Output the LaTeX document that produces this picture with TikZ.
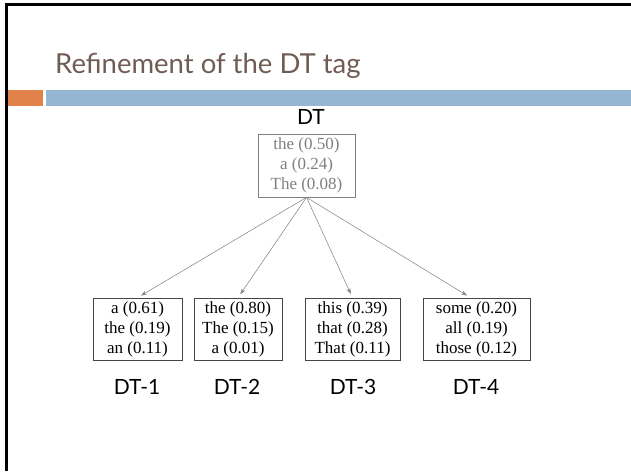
\documentclass[tikz,border=0pt]{standalone}
\usepackage{fontspec}
\setmainfont{Liberation Serif}
\newfontfamily\labfont{Lato}
\usetikzlibrary{arrows.meta}
\definecolor{titlecol}{RGB}{112,92,84}
\definecolor{barorange}{RGB}{224,130,74}
\definecolor{barblue}{RGB}{148,182,210}
\definecolor{graytext}{RGB}{128,128,128}
\definecolor{boxborder}{RGB}{70,70,70}
\begin{document}
\begin{tikzpicture}[x=1pt,y=-1pt,
  wordbox/.style={draw=boxborder, line width=0.7pt, align=center, inner sep=0pt,
    font=\fontsize{17}{20}\selectfont, minimum height=62pt},
  topbox/.style={wordbox, draw=graytext, text=graytext},
  tag/.style={font=\labfont\fontsize{21}{23}\selectfont, inner sep=0pt},
  conn/.style={draw=graytext, line width=0.5pt, -{Stealth[length=6pt,width=4pt]}, shorten >=4pt}]
\useasboundingbox (0,0) rectangle (631,471);
\fill[white] (0,0) rectangle (631,471);
% frame
\draw[line width=2.5pt] (6.5,4.5) -- (631,4.5);
\draw[line width=2.5pt] (6.5,3.3) -- (6.5,471);
% bars
\fill[barorange] (8,90) rectangle (43,106);
\fill[barblue] (46,90) rectangle (631,106);
% title
\node[anchor=base west, text=titlecol, font=\labfont\fontsize{27.5}{30}\selectfont, inner sep=0pt] (title) at (55,73) {Refinement of the DT tag};
% top
\node[tag] (dt) at (311,117) {DT};
\node[topbox, minimum width=97pt, minimum height=63pt] (top) at (306.5,165.5) {the (0.50)\\a (0.24)\\The (0.08)};
% bottom
\node[wordbox, minimum width=89pt] (b1) at (137.5,329) {a (0.61)\\the (0.19)\\an (0.11)};
\node[wordbox, minimum width=88pt] (b2) at (238,329) {the (0.80)\\The (0.15)\\a (0.01)};
\node[wordbox, minimum width=95pt] (b3) at (352.5,329) {this (0.39)\\that (0.28)\\That (0.11)};
\node[wordbox, minimum width=107pt] (b4) at (476.5,329) {some (0.20)\\all (0.19)\\those (0.12)};
\node[tag] (l1) at (137,387) {DT-1};
\node[tag] (l2) at (237,387) {DT-2};
\node[tag] (l3) at (353,387) {DT-3};
\node[tag] (l4) at (476,387) {DT-4};
% connectors
\draw[conn] (top.south) -- (b1.north);
\draw[conn] (top.south) -- (b2.north);
\draw[conn] (top.south) -- (b3.north);
\draw[conn] (top.south) -- ([xshift=-6pt]b4.north);
\end{tikzpicture}
\end{document}
